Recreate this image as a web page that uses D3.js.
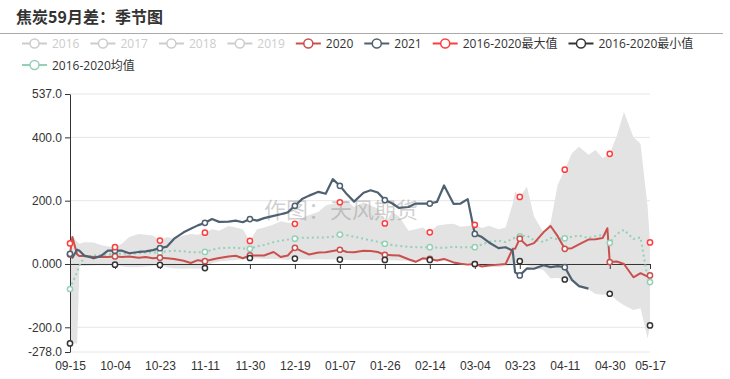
<!DOCTYPE html>
<html>
<head>
<meta charset="utf-8">
<script src="https://cdn.jsdelivr.net/npm/d3@7"></script>
<style>
  body { margin: 0; background: #fff; }
  svg { display: block; font-family: "Open Sans", "Noto Sans CJK SC", sans-serif; }
</style>
</head>
<body>
<svg width="730" height="379"></svg>
<script>
// sampled days (month-day), seasonal axis runs 09-15 .. 05-17
const days = [
  "09-15","09-16","09-18","09-19","09-21","09-25","09-28","10-01",
  "10-04","10-07","10-10","10-14","10-17","10-20",
  "10-23","10-26","10-29","11-02","11-05","11-08",
  "11-11","11-14","11-17","11-21","11-24","11-27",
  "11-30","12-03","12-06","12-10","12-13","12-16",
  "12-19","12-22","12-25","12-29","01-01","01-04",
  "01-07","01-10","01-13","01-17","01-20","01-23",
  "01-26","01-29","02-01","02-05","02-08","02-11",
  "02-14","02-17","02-20","02-24","02-27","03-01",
  "03-04","03-07","03-10","03-14","03-17","03-20","03-21",
  "03-23","03-26","03-29","04-02","04-05","04-08",
  "04-11","04-14","04-17","04-21","04-24","04-27","04-29",
  "04-30","05-03","05-06","05-10","05-13","05-16","05-17"
];

const y2020 = [
  30, 85, 30, 25, 25, 22, 23, 22,
  24, 22, 24, 20, 22, 18,
  20, 18, 16, 10, 3, 12,
  9, 14, 19, 24, 26, 18,
  27, 27, 27, 38, 22, 27,
  51, 40, 30, 36, 37, 41,
  45, 38, 37, 42, 41, 38,
  29, 28, 27, 15, 7, 18,
  16, 11, 16, 5, 1, -2,
  0, -8, -5, -2, 0, 48, 48,
  80, 58, 66, 100, 120, 88,
  48, 50, 62, 77, 78, 82, 113,
  6, 8, 0, -42, -29, -40, -36
];

const y2021 = [
  32, 20, 45, 42, 27, 18, 25, 42,
  42, 42, 34, 38, 40, 44,
  50, 55, 80, 100, 111, 122,
  130, 142, 133, 134, 137, 132,
  142, 137, 145, 152, 157, 163,
  184, 205, 216, 228, 222, 268,
  247, 220, 197, 225, 233, 226,
  202, 192, 177, 180, 191, 191,
  191, 196, 248, 190, 191, 205,
  95, 85, 68, 50, 53, 42, -26,
  -36, -14, -15, -4, -10, -7,
  -10, -50, -70, -78, null, null, null,
  null, null, null, null, null, null, null
];

const maxVals = [
  65, 90, 70, 64, 69, 68, 60, 55,
  53, 65, 85, 95, 92, 90,
  74, 85, 80, 90, 95, 92,
  99, 110, 105, 120, 115, 110,
  73, 110, 115, 125, 135, 130,
  127, 145, 155, 165, 185, 190,
  195, 200, 180, 195, 185, 175,
  128, 165, 150, 105, 110, 115,
  100, 121, 125, 127, 118, 120,
  124, 114, 121, 110, 115, 190, 230,
  212, 245, 150, 100, 130, 250,
  298, 350, 370, 345, 360, 335, 342,
  348, 405, 480, 400, 380, 180, 68
];

const minVals = [
  -251, -251, -251, -5, -6, -5, -4, -5,
  -2, -8, -10, -10, -8, -6,
  -3, -10, -14, -15, -14, -15,
  -13, 3, 8, 11, 13, 15,
  19, 17, 16, 16, 15, 13,
  17, 14, 14, 15, 14, 14,
  14, 13, 12, 13, 12, 13,
  13, 12, 11, 10, 5, 13,
  13, 9, 11, 2, 0, -3,
  0, -8, -7, -10, -6, -3, 0,
  9, -5, -12, -20, -45, -44,
  -49, -55, -68, -80, -95, -97, -96,
  -94, -115, -130, -145, -140, -235, -194
];

const meanVals = [
  -79, -60, -25, -5, 22, 27, 28, 30,
  32, 32, 32, 34, 36, 36,
  37, 40, 42, 40, 37, 37,
  38, 45, 50, 51, 51, 49,
  48, 56, 60, 69, 74, 77,
  80, 83, 83, 84, 84, 86,
  93, 91, 86, 80, 75, 70,
  64, 60, 57, 54, 53, 53,
  53, 52, 51, 54, 53, 53,
  53, 62, 70, 74, 69, 80, 83,
  87, 90, 75, 70, 82, 79,
  81, 86, 90, 82, 88, 92, 95,
  67, 95, 108, 79, 84, -45, -57
];

const xTickLabels = ["09-15","10-04","10-23","11-11","11-30","12-19","01-07",
  "01-26","02-14","03-04","03-23","04-11","04-30","05-17"];
const yTicks = [-278, -200, 0, 200, 400, 537];

const legendNames = ["2016", "2017", "2018", "2019", "2020", "2021",
  "2016-2020最大值", "2016-2020最小值", "2016-2020均值"];
const hiddenSeries = ["2016", "2017", "2018", "2019"];

const colors = {
  "2020": "#c9504d",
  "2021": "#4f6071",
  "2016-2020最大值": "#ff3d3d",
  "2016-2020最小值": "#333",
  "2016-2020均值": "#95d0b6"
};

const svg = d3.select("svg");
const plotLeft = 70, plotRight = 650, plotTop = 94, plotBottom = 352;

const parseDay = (s) => {
  const [m, d] = s.split("-").map(Number);
  return new Date(Date.UTC(m >= 9 ? 2019 : 2020, m - 1, d));
};

const rows = days.map((d, i) => ({
  label: d,
  date: parseDay(d),
  v2020: y2020[i],
  v2021: y2021[i],
  max: maxVals[i],
  min: minVals[i],
  mean: meanVals[i]
}));

const x = d3.scaleUtc()
  .domain([parseDay(days[0]), parseDay(days[days.length - 1])])
  .range([plotLeft, plotRight]);

const y = d3.scaleLinear().domain([-278, 537]).range([plotBottom, plotTop]);

// title
svg.append("text")
  .attr("x", 16).attr("y", 23)
  .attr("font-size", 16).attr("font-weight", "bold").attr("fill", "#333")
  .attr("font-family", "'Noto Sans CJK SC', sans-serif")
  .text("焦炭59月差：季节图");

svg.append("line")
  .attr("x1", 0).attr("x2", 723).attr("y1", 33.5).attr("y2", 33.5)
  .attr("stroke", "#aaa");

// legend
const legend = svg.append("g");
let lx = 22, ly = 43.5;
legendNames.forEach((name) => {
  const off = hiddenSeries.includes(name);
  const c = off ? "#ccc" : colors[name];
  const t = legend.append("text")
    .attr("font-size", 12)
    .attr("fill", off ? "#ccc" : "#333")
    .attr("dominant-baseline", "central")
    .text(name);
  const w = t.node().getComputedTextLength();
  if (lx + 30 + w > 712) {
    lx = 22;
    ly += 21.5;
  }
  t.attr("x", lx + 30).attr("y", ly);
  legend.append("line")
    .attr("x1", lx).attr("x2", lx + 25).attr("y1", ly).attr("y2", ly)
    .attr("stroke", c).attr("stroke-width", 2);
  legend.append("circle")
    .attr("cx", lx + 12.5).attr("cy", ly).attr("r", 4.5)
    .attr("fill", "#fff").attr("stroke", c).attr("stroke-width", 1.5);
  lx += 30 + w + 11;
});

// grid
svg.append("g")
  .selectAll("line")
  .data(yTicks.filter((v) => v !== 0))
  .join("line")
  .attr("x1", plotLeft).attr("x2", plotRight)
  .attr("y1", (d) => y(d)).attr("y2", (d) => y(d))
  .attr("stroke", "#e6e6e6");

// min-max band
svg.append("path")
  .datum(rows)
  .attr("fill", "#e3e3e3")
  .attr("d", d3.area()
    .x((d) => x(d.date))
    .y0((d) => y(d.min))
    .y1((d) => y(d.max)));

// watermark
svg.append("text")
  .attr("x", 341).attr("y", 218)
  .attr("text-anchor", "middle")
  .attr("font-size", 22)
  .attr("font-family", "'Noto Sans CJK SC', sans-serif")
  .attr("fill", "rgba(120,120,120,0.35)")
  .text("作图：天风期货");

// y axis
const yAxis = svg.append("g")
  .attr("transform", `translate(${plotLeft},0)`)
  .call(d3.axisLeft(y).tickValues(yTicks).tickFormat((v) => v.toPrecision(4)).tickSize(5).tickSizeOuter(0));
yAxis.selectAll("text").attr("font-size", 12).attr("fill", "#333").attr("font-family", null);
yAxis.selectAll("line, path").attr("stroke", "#333");

// x axis line at zero
const tickDates = xTickLabels.map(parseDay);
const xAxis = svg.append("g")
  .attr("transform", `translate(0,${y(0)})`)
  .call(d3.axisBottom(x).tickValues(tickDates).tickFormat("").tickSize(5).tickSizeOuter(0));
xAxis.selectAll("line, path").attr("stroke", "#333");

// x labels at the bottom
const xLabels = svg.append("g")
  .attr("transform", `translate(0,${plotBottom})`)
  .call(d3.axisBottom(x).tickValues(tickDates).tickFormat((d, i) => xTickLabels[i]).tickSize(0).tickPadding(9));
xLabels.select(".domain").remove();
xLabels.selectAll("text").attr("font-size", 12).attr("fill", "#333").attr("font-family", null);

// lines
const lineOf = (key) => d3.line()
  .defined((d) => d[key] != null)
  .x((d) => x(d.date))
  .y((d) => y(d[key]));

svg.append("path").datum(rows)
  .attr("fill", "none").attr("stroke", colors["2016-2020均值"])
  .attr("stroke-width", 2).attr("stroke-dasharray", "2,3")
  .attr("d", lineOf("mean"));

svg.append("path").datum(rows)
  .attr("fill", "none").attr("stroke", colors["2020"])
  .attr("stroke-width", 2).attr("stroke-linejoin", "round")
  .attr("d", lineOf("v2020"));

svg.append("path").datum(rows)
  .attr("fill", "none").attr("stroke", colors["2021"])
  .attr("stroke-width", 2.2).attr("stroke-linejoin", "round")
  .attr("d", lineOf("v2021"));

// symbols at labelled days
const tickRows = rows.filter((r) => xTickLabels.includes(r.label));
const symbolSeries = [
  ["mean", "2016-2020均值"],
  ["v2020", "2020"],
  ["v2021", "2021"],
  ["max", "2016-2020最大值"],
  ["min", "2016-2020最小值"]
];
symbolSeries.forEach(([key, name]) => {
  svg.append("g")
    .selectAll("circle")
    .data(tickRows.filter((r) => r[key] != null))
    .join("circle")
    .attr("cx", (d) => x(d.date))
    .attr("cy", (d) => y(d[key]))
    .attr("r", 2.6)
    .attr("fill", "#fff")
    .attr("stroke", colors[name])
    .attr("stroke-width", 1.5);
});
</script>
</body>
</html>
